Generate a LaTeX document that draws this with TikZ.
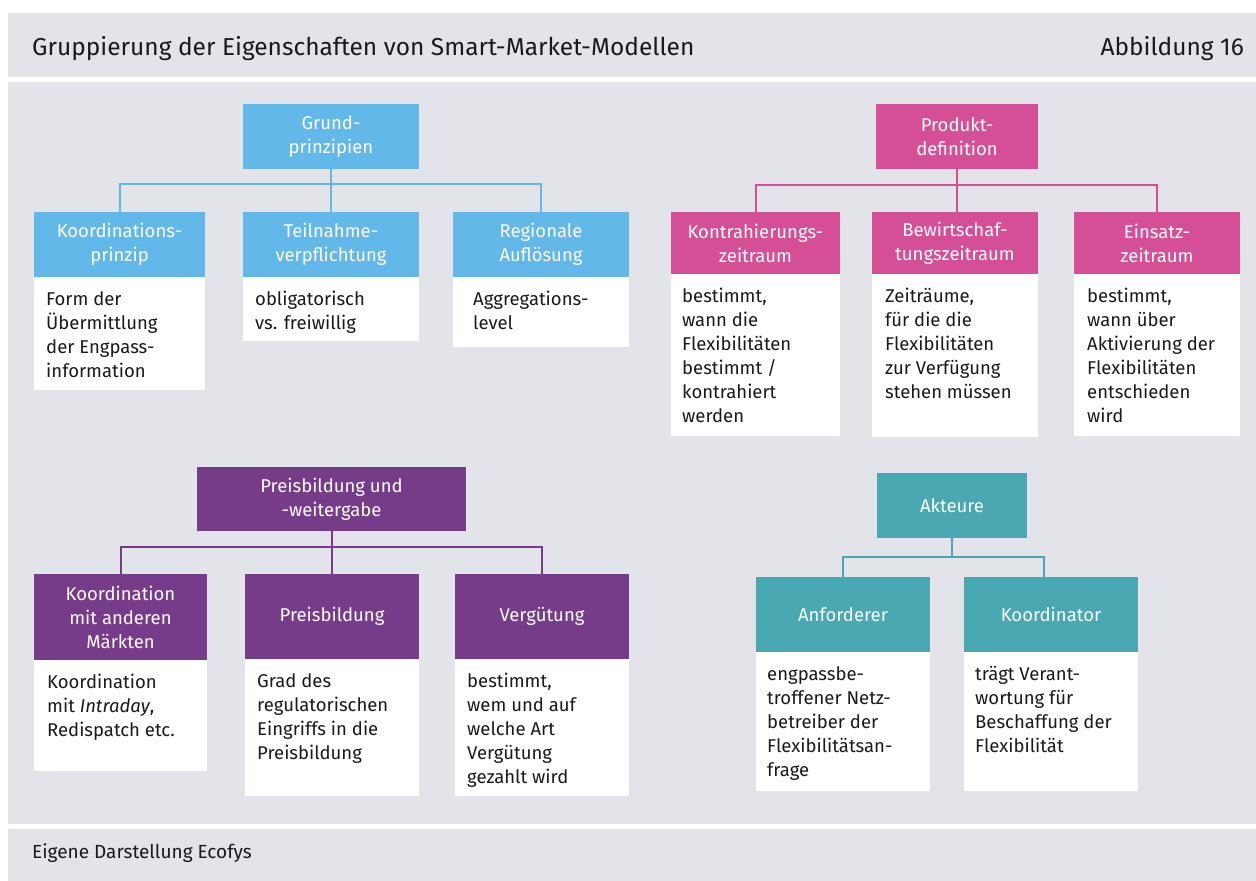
\documentclass[tikz,border=0pt]{standalone}
\usepackage{fontspec}
\setmainfont{Fira Sans}
\usetikzlibrary{positioning}
\definecolor{bggray}{RGB}{227,228,233}
\definecolor{cblue}{RGB}{98,184,233}
\definecolor{cmag}{RGB}{212,79,149}
\definecolor{cpur}{RGB}{119,60,137}
\definecolor{cteal}{RGB}{73,168,177}
\definecolor{ink}{RGB}{26,26,26}
\newcommand{\boxfont}{\fontsize{18.5}{24}\selectfont}
\begin{document}
\begin{tikzpicture}[x=1pt,y=-1pt,
  hdr/.style={inner sep=0pt, align=center, text=white, font=\boxfont},
  body/.style={inner sep=0pt, fill=white},
  btext/.style={inner sep=0pt, anchor=north west, align=left, text=ink, font=\boxfont},
  conn/.style={line width=2pt}]
\useasboundingbox (0,0) rectangle (1256,881);
% page background and bands
\fill[white] (0,0) rectangle (1256,881);
\fill[bggray] (8,13) rectangle (1256,77);
\fill[bggray] (8,82) rectangle (1256,824);
\fill[bggray] (8,829) rectangle (1256,881);
\node[anchor=base west, inner sep=0pt, text=ink, font=\fontsize{24.5}{30}\selectfont] (title) at (32,55) {Gruppierung der Eigenschaften von Smart-Market-Modellen};
\node[anchor=base east, inner sep=0pt, text=ink, font=\fontsize{24.5}{30}\selectfont] (fig) at (1244,55) {Abbildung 16};
\node[anchor=base west, inner sep=0pt, text=ink, font=\fontsize{19}{22}\selectfont] (src) at (32,858) {Eigene Darstellung Ecofys};

% ---------- Grundprinzipien ----------
\coordinate (gbus) at (331,184);
\node[hdr, fill=cblue, minimum width=176pt, minimum height=65pt] (gp) at (331,136.5) {Grund-\\prinzipien};
\node[hdr, fill=cblue, minimum width=171pt, minimum height=65pt] (gk) at (119.5,244.5) {Koordinations-\\prinzip};
\node[hdr, fill=cblue, minimum width=176pt, minimum height=65pt] (gt) at (331,244.5) {Teilnahme-\\verpflichtung};
\node[hdr, fill=cblue, minimum width=176pt, minimum height=65pt] (gr) at (541,244.5) {Regionale\\Auflösung};
\draw[cblue, conn] (gk.north) |- (gbus) -| (gr.north);
\draw[cblue, conn] (gp.south) -- (gt.north);
\node[body, minimum width=171pt, minimum height=113pt, below=0pt of gk] (gkb) {};
\node[body, minimum width=176pt, minimum height=64pt, below=0pt of gt] (gtb) {};
\node[body, minimum width=176pt, minimum height=70pt, below=0pt of gr] (grb) {};
\node[btext] (gkt) at (46,288.2) {\strut Form der\\Übermittlung\\der Engpass-\\information};
\node[btext] (gtt) at (255,288.2) {\strut obligatorisch\\vs. freiwillig};
\node[btext] (grt) at (473,288.2) {\strut Aggregations-\\level};

% ---------- Produktdefinition ----------
\coordinate (pbus) at (957,185);
\node[hdr, fill=cmag, minimum width=162pt, minimum height=65pt] (pp) at (957,136.5) {Produkt-\\definition};
\node[hdr, fill=cmag, minimum width=169pt, minimum height=62pt] (pk) at (755.5,243) {Kontrahierungs-\\zeitraum};
\node[hdr, fill=cmag, minimum width=166pt, minimum height=62pt] (pb) at (955,243) {Bewirtschaf-\\tungszeitraum};
\node[hdr, fill=cmag, minimum width=166pt, minimum height=62pt] (pe) at (1157,243) {Einsatz-\\zeitraum};
\draw[cmag, conn] (pk.north) |- (pbus) -| (pe.north);
\draw[cmag, conn] (pp.south) -- (pp.south |- pb.north);
\node[body, minimum width=169pt, minimum height=162pt, below=0pt of pk] (pkb) {};
\node[body, minimum width=166pt, minimum height=163pt, below=0pt of pb] (pbb) {};
\node[body, minimum width=166pt, minimum height=162pt, below=0pt of pe] (peb) {};
\node[btext] (pkt) at (682,285.2) {\strut bestimmt,\\wann die\\Flexibilitäten\\bestimmt /\\kontrahiert\\werden};
\node[btext] (pbt) at (885,285.2) {\strut Zeiträume,\\für die die\\Flexibilitäten\\zur Verfügung\\stehen müssen};
\node[btext] (pet) at (1087,285.2) {\strut bestimmt,\\wann über\\Aktivierung der\\Flexibilitäten\\entschieden\\wird};

% ---------- Preisbildung und -weitergabe ----------
\coordinate (rbus) at (331.5,547);
\node[hdr, fill=cpur, minimum width=269pt, minimum height=64pt] (rp) at (331.5,499) {Preisbildung und\\-weitergabe};
\node[hdr, fill=cpur, minimum width=173pt, minimum height=86pt] (rk) at (120.5,617) {Koordination\\mit anderen\\Märkten};
\node[hdr, fill=cpur, minimum width=174pt, minimum height=85pt] (rb) at (332,616.5) {Preisbildung};
\node[hdr, fill=cpur, minimum width=174pt, minimum height=85pt] (rv) at (542,616.5) {Vergütung};
\draw[cpur, conn] (rk.north) |- (rbus) -| (rv.north);
\draw[cpur, conn] (rp.south) -- (rp.south |- rb.north);
\node[body, minimum width=173pt, minimum height=111pt, below=0pt of rk] (rkb) {};
\node[body, minimum width=174pt, minimum height=137pt, below=0pt of rb] (rbb) {};
\node[body, minimum width=174pt, minimum height=137pt, below=0pt of rv] (rvb) {};
\node[btext] (rkt) at (47,671.2) {\strut Koordination\\mit \textit{Intraday},\\Redispatch etc.};
\node[btext] (rbt) at (257,670.2) {\strut Grad des\\regulatorischen\\Eingriffs in die\\Preisbildung};
\node[btext] (rvt) at (467,670.2) {\strut bestimmt,\\wem und auf\\welche Art\\Vergütung\\gezahlt wird};

% ---------- Akteure ----------
\coordinate (abus) at (952,557);
\node[hdr, fill=cteal, minimum width=150pt, minimum height=65pt] (ap) at (952,505.5) {Akteure};
\node[hdr, fill=cteal, minimum width=174pt, minimum height=75pt] (aa) at (843,614.5) {Anforderer};
\node[hdr, fill=cteal, minimum width=174pt, minimum height=75pt] (ak) at (1051,614.5) {Koordinator};
\draw[cteal, conn] (aa.north) |- (abus) -| ([xshift=-7pt]ak.north);
\draw[cteal, conn] (ap.south) -- (abus);
\node[body, minimum width=174pt, minimum height=139pt, below=0pt of aa] (aab) {};
\node[body, minimum width=174pt, minimum height=139pt, below=0pt of ak] (akb) {};
\node[btext] (aat) at (767,663.2) {\strut engpassbe-\\troffener Netz-\\betreiber der\\Flexibilitätsan-\\frage};
\node[btext] (akt) at (975,663.2) {\strut trägt Verant-\\wortung für\\Beschaffung der\\Flexibilität};
\end{tikzpicture}
\end{document}
